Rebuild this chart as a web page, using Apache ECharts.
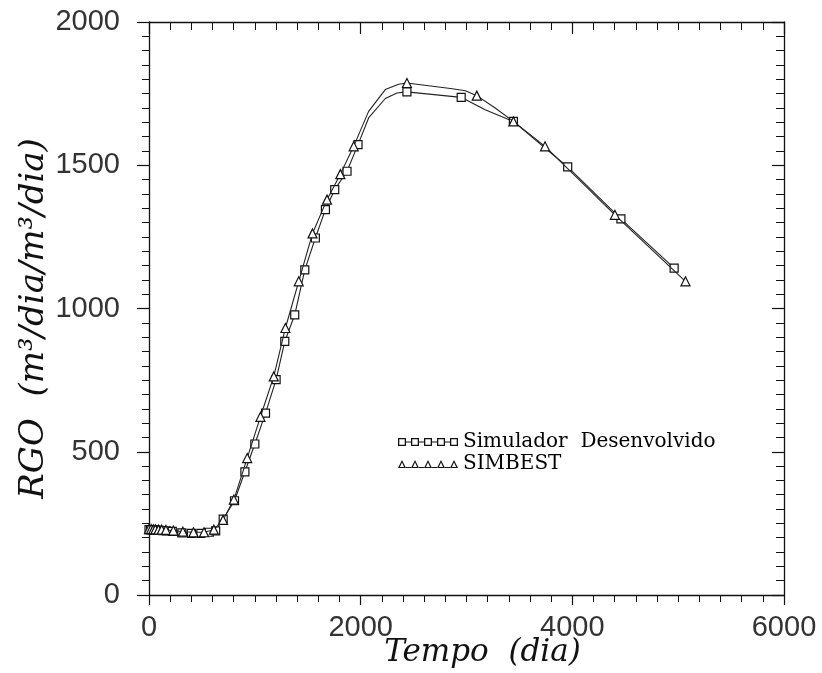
<!DOCTYPE html>
<html>
<head>
<meta charset="utf-8">
<script src="https://cdn.jsdelivr.net/npm/echarts@6/dist/echarts.min.js"></script>
<style>
html,body{margin:0;padding:0;background:#fff;}
#chart{width:822px;height:673px;}
</style>
</head>
<body>
<div id="chart"></div>
<script>
// ---- data ----
const seriesNames = ['Simulador  Desenvolvido', 'SIMBEST'];

// Simulador Desenvolvido (squares); mark 1 = marker drawn, 0 = line vertex only
const simX = [0,15,30,45,60,80,100,130,165,220,310,400,490,570,630,701,808,906,1000,1101,1201,1283,1377,1472,1572,1667,1755,1871,1975,2075,2233,2343,2437,2950,3176,3443,3956,4459,4962];
const simY = [228,228,228,227,227,226,226,225,224,222,217,215,215,219,224,265,329,430,527,635,752,885,978,1135,1246,1345,1415,1479,1572,1665,1733,1752,1756,1737,1694,1653,1494,1313,1141];
const simMark = [1,1,1,1,1,1,1,1,1,1,1,1,1,1,1,1,1,1,1,1,1,1,1,1,1,1,1,1,1,0,0,0,1,1,0,1,1,1,1];

// SIMBEST (triangles)
const sbX = [0,20,40,60,90,120,160,230,320,420,520,613,700,802,928,1053,1179,1289,1415,1545,1682,1808,1934,2075,2233,2358,2437,2849,2990,3097,3271,3443,3742,4402,5069];
const sbY = [230,230,229,229,228,228,227,225,221,219,219,228,262,333,478,622,763,932,1095,1262,1380,1469,1566,1688,1764,1783,1787,1768,1760,1743,1700,1653,1566,1327,1095];
const sbMark = [1,1,1,1,1,1,1,1,1,1,1,1,1,1,1,1,1,1,1,1,1,1,1,0,0,0,1,0,0,1,0,1,1,1,1];

const xTicks = {min: 0, max: 6000, interval: 2000};
const yTicks = {min: 0, max: 2000, interval: 500};
const xTitle = 'Tempo  (dia)';
const yTitle = 'RGO  (m\u00B3/dia/m\u00B3/dia)';

// ---- build ----
function build(xs, ys, marks) {
  return xs.map((x, i) => marks[i] ? [x, ys[i]] : {value: [x, ys[i]], symbol: 'none'});
}

// legend icons: 5 hollow squares / triangles joined by a line (60 x 8 units)
function squaresIcon() {
  let p = '';
  for (let i = 0; i < 5; i++) {
    const x = i * 13;
    p += `M${x},0 H${x+8} V8 H${x} Z M${x+1.3},1.3 V6.7 H${x+6.7} V1.3 Z `;
    if (i < 4) p += `M${x+8},3.5 H${x+13} V4.5 H${x+8} Z `;
  }
  return 'path://' + p;
}
function trianglesIcon() {
  let p = '';
  for (let i = 0; i < 5; i++) {
    const x = i * 13;
    p += `M${x},8 L${x+4},0 L${x+8},8 Z M${x+1.9},7 L${x+6.1},7 L${x+4},2.6 Z `;
    if (i < 4) p += `M${x+8},7 H${x+13} V8 H${x+8} Z `;
  }
  return 'path://' + p;
}

const labelFont = {fontFamily: 'Liberation Sans', fontSize: 29, color: '#333', formatter: v => String(v)};
const axisLine = {show: true, onZero: false, lineStyle: {color: '#111', width: 1.3}};

const chart = echarts.init(document.getElementById('chart'), null, {renderer: 'canvas'});
chart.setOption({
  backgroundColor: '#fff',
  animation: false,
  grid: {left: 149, right: 38, top: 22, bottom: 78, containLabel: false, outerBoundsMode: 'none'},
  legend: {
    orient: 'vertical',
    left: 398, top: 432,
    padding: 0,
    itemGap: 2,
    itemWidth: 60, itemHeight: 8,
    textStyle: {fontFamily: 'DejaVu Serif', fontSize: 20, color: '#000'},
    data: [
      {name: seriesNames[0], icon: squaresIcon(), itemStyle: {color: '#111', borderWidth: 0}},
      {name: seriesNames[1], icon: trianglesIcon(), itemStyle: {color: '#111', borderWidth: 0}}
    ]
  },
  xAxis: [{
    type: 'value', position: 'bottom', min: xTicks.min, max: xTicks.max, interval: xTicks.interval,
    axisLine: axisLine,
    axisTick: {show: true, inside: false, length: 10, lineStyle: {color: '#111', width: 1.2}},
    minorTick: {show: true, splitNumber: 10, length: 7, lineStyle: {color: '#111', width: 1}},
    splitLine: {show: false},
    axisLabel: Object.assign({margin: 18}, labelFont),
    name: xTitle, nameLocation: 'middle', nameGap: 42, nameMoveOverlap: false,
    nameTextStyle: {fontFamily: 'DejaVu Serif', fontStyle: 'italic', fontSize: 31, color: '#111', padding: [0, 0, 0, 32]}
  }, {
    type: 'value', position: 'top', min: xTicks.min, max: xTicks.max, interval: xTicks.interval,
    axisLine: axisLine,
    axisTick: {show: true, inside: true, length: 12, lineStyle: {color: '#111', width: 1.2}},
    minorTick: {show: true, splitNumber: 10, length: 8, lineStyle: {color: '#111', width: 1}},
    splitLine: {show: false},
    axisLabel: {show: false}
  }],
  yAxis: [{
    type: 'value', position: 'left', min: yTicks.min, max: yTicks.max, interval: yTicks.interval,
    axisLine: axisLine,
    axisTick: {show: true, inside: false, length: 12, lineStyle: {color: '#111', width: 1.2}},
    minorTick: {show: true, splitNumber: 10, length: 7, lineStyle: {color: '#111', width: 1}},
    splitLine: {show: false},
    axisLabel: Object.assign({margin: 29}, labelFont),
    name: yTitle, nameLocation: 'middle', nameGap: 98, nameRotate: 90, nameMoveOverlap: false,
    nameTextStyle: {fontFamily: 'DejaVu Serif', fontStyle: 'italic', fontSize: 34, color: '#111', padding: [0, 20, 0, 0]}
  }, {
    type: 'value', position: 'right', min: yTicks.min, max: yTicks.max, interval: yTicks.interval,
    axisLine: axisLine,
    axisTick: {show: true, inside: true, length: 12, lineStyle: {color: '#111', width: 1.2}},
    minorTick: {show: true, splitNumber: 10, length: 8, lineStyle: {color: '#111', width: 1}},
    splitLine: {show: false},
    axisLabel: {show: false}
  }],
  series: [{
    name: seriesNames[0], type: 'line', xAxisIndex: 0, yAxisIndex: 0,
    data: build(simX, simY, simMark),
    symbol: 'rect', symbolSize: 8, showAllSymbol: true,
    itemStyle: {color: '#fff', borderColor: '#111', borderWidth: 1.2},
    lineStyle: {color: '#222', width: 1.1},
    z: 3
  }, {
    name: seriesNames[1], type: 'line', xAxisIndex: 0, yAxisIndex: 0,
    data: build(sbX, sbY, sbMark),
    symbol: 'triangle', symbolSize: 9, showAllSymbol: true,
    itemStyle: {color: '#fff', borderColor: '#111', borderWidth: 1.2},
    lineStyle: {color: '#222', width: 1.1},
    z: 4
  }]
});
</script>
</body>
</html>
